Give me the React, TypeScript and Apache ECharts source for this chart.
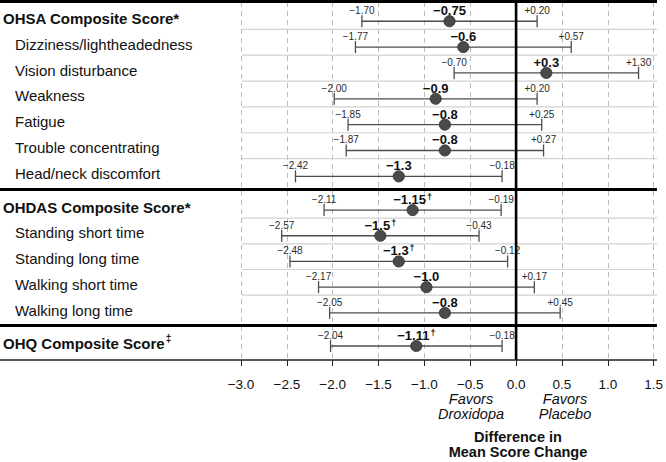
import React, { useEffect, useRef } from "react";
import * as echarts from "echarts";

// ---- Data ----
const ohsaLabels = [
  "OHSA Composite Score*",
  "Dizziness/lightheadedness",
  "Vision disturbance",
  "Weakness",
  "Fatigue",
  "Trouble concentrating",
  "Head/neck discomfort",
];
const ohsaMean = [-0.75, -0.6, 0.3, -0.9, -0.8, -0.8, -1.3];
const ohsaLow = [-1.7, -1.77, -0.7, -2.0, -1.85, -1.87, -2.42];
const ohsaHigh = [0.2, 0.57, 1.3, 0.2, 0.25, 0.27, -0.18];
const ohsaMeanText = ["−0.75", "−0.6", "+0.3", "−0.9", "−0.8", "−0.8", "−1.3"];
const ohsaDagger = [false, false, false, false, false, false, false];

const ohdasLabels = [
  "OHDAS Composite Score*",
  "Standing short time",
  "Standing long time",
  "Walking short time",
  "Walking long time",
];
const ohdasMean = [-1.15, -1.5, -1.3, -1.0, -0.8];
const ohdasLow = [-2.11, -2.57, -2.48, -2.17, -2.05];
const ohdasHigh = [-0.19, -0.43, -0.12, 0.17, 0.45];
const ohdasMeanText = ["−1.15", "−1.5", "−1.3", "−1.0", "−0.8"];
const ohdasDagger = [true, true, true, false, false];

const ohqLabels = ["OHQ Composite Score‡"];
const ohqMean = [-1.11];
const ohqLow = [-2.04];
const ohqHigh = [-0.18];
const ohqMeanText = ["−1.11"];
const ohqDagger = [true];

const xTicks = [-3.0, -2.5, -2.0, -1.5, -1.0, -0.5, 0.0, 0.5, 1.0, 1.5];

// ---- Layout / style ----
const FONT = "'Liberation Sans', Arial, Helvetica, sans-serif";
const X_MIN = xTicks[0];
const X_MAX = xTicks[xTicks.length - 1];
const X_STEP = 0.5;
const GRID_LEFT = 241;
const GRID_RIGHT = 9;

const sections = [
  { labels: ohsaLabels, mean: ohsaMean, low: ohsaLow, high: ohsaHigh, text: ohsaMeanText, dagger: ohsaDagger, top: 3.5, rowH: 25.85 },
  { labels: ohdasLabels, mean: ohdasMean, low: ohdasLow, high: ohdasHigh, text: ohdasMeanText, dagger: ohdasDagger, top: 192.4, rowH: 25.7 },
  { labels: ohqLabels, mean: ohqMean, low: ohqLow, high: ohqHigh, text: ohqMeanText, dagger: ohqDagger, top: 328.3, rowH: 25.8 },
];

function signed(v: number): string {
  if (v > 0) return "+" + v.toFixed(2);
  if (v < 0) return "−" + Math.abs(v).toFixed(2);
  return "0.00";
}
function tickFmt(v: number): string {
  return v < 0 ? "−" + Math.abs(v).toFixed(1) : v.toFixed(1);
}

function buildOption(): any {
  const grids: any[] = [
    { left: GRID_LEFT, right: GRID_RIGHT, top: 2, height: 358 },
  ];
  const xAxes: any[] = [
    {
      gridIndex: 0,
      type: "value",
      min: X_MIN,
      max: X_MAX,
      interval: X_STEP,
      axisLine: { show: false },
      axisTick: { show: true, length: 6, lineStyle: { color: "#222", width: 1 } },
      axisLabel: {
        formatter: (v: number) => tickFmt(v),
        fontSize: 13.5,
        lineHeight: 12,
        color: "#111",
        fontFamily: FONT,
        margin: 18.5,
      },
      splitLine: { show: true, lineStyle: { color: "#bdbdbd", type: [5, 4], width: 1 } },
    },
  ];
  const yAxes: any[] = [
    { gridIndex: 0, type: "value", min: 0, max: 1, show: false },
  ];
  const series: any[] = [
    {
      type: "line",
      xAxisIndex: 0,
      yAxisIndex: 0,
      data: [
        [0, 0],
        [0, 1],
      ],
      symbol: "none",
      lineStyle: { color: "#000", width: 2.6 },
      z: 10,
      silent: true,
    },
  ];

  sections.forEach((s, si) => {
    const gi = si + 1;
    const n = s.labels.length;
    grids.push({ left: GRID_LEFT, right: GRID_RIGHT, top: s.top, height: s.rowH * n });
    xAxes.push({ gridIndex: gi, type: "value", min: X_MIN, max: X_MAX, interval: X_STEP, show: false });
    yAxes.push({
      gridIndex: gi,
      type: "category",
      inverse: true,
      data: s.labels,
      axisLine: { show: false },
      axisTick: { show: false },
      splitLine: { show: false },
      axisLabel: {
        interval: 0,
        align: "left",
        margin: GRID_LEFT - 2,
        formatter: (value: string, index: number) => {
          if (index === 0) {
            if (value.endsWith("‡")) return `{h|${value.slice(0, -1)}}{hs|‡}`;
            return `{h|${value}}`;
          }
          return `{i|${value}}`;
        },
        rich: {
          h: { fontSize: 15, fontWeight: "bold", color: "#111", fontFamily: FONT, padding: [4, 0, 0, 0] },
          hs: { fontSize: 10, fontWeight: "bold", color: "#111", fontFamily: FONT, padding: [0, 0, 6, 1] },
          i: { fontSize: 15, color: "#111", fontFamily: FONT, padding: [4, 0, 0, 12] },
        },
      },
    });
    const data = s.labels.map((_, i) => [i, s.mean[i], s.low[i], s.high[i]]);
    series.push({
      type: "custom",
      xAxisIndex: gi,
      yAxisIndex: gi,
      data,
      encode: { x: [1, 2, 3], y: 0 },
      z: 4,
      clip: false,
      silent: true,
      renderItem: (params: any, api: any) => {
        const idx = api.value(0);
        const mean = api.value(1);
        const lo = api.value(2);
        const hi = api.value(3);
        const c = api.coord([mean, idx]);
        const xl = api.coord([lo, idx])[0];
        const xh = api.coord([hi, idx])[0];
        const band = api.size([0, 1])[1];
        const cs = params.coordSys;
        const yb = c[1] + 4.8;
        const ty = yb - 10.5;
        const children: any[] = [];
        if (idx < n - 1) {
          const ys = c[1] + band / 2;
          children.push({
            type: "line",
            shape: { x1: cs.x, y1: ys, x2: cs.x + cs.width, y2: ys },
            style: { stroke: "#d2d2d2", lineWidth: 1.2 },
            z2: 0,
          });
        }
        const barStroke = { stroke: "#4d4d4d", lineWidth: 1.3 };
        children.push({ type: "line", shape: { x1: xl, y1: yb, x2: xh, y2: yb }, style: barStroke, z2: 2 });
        children.push({ type: "line", shape: { x1: xl, y1: yb - 6, x2: xl, y2: yb + 6 }, style: barStroke, z2: 2 });
        children.push({ type: "line", shape: { x1: xh, y1: yb - 6, x2: xh, y2: yb + 6 }, style: barStroke, z2: 2 });
        children.push({
          type: "circle",
          shape: { cx: c[0], cy: yb, r: 5.6 },
          style: { fill: "#4a4a4a", stroke: "#2e2e2e", lineWidth: 0.8 },
          z2: 3,
        });
        const boundStyle = (t: string) => ({
          text: t,
          fontSize: 10,
          fontFamily: FONT,
          fill: "#2a2a2a",
          align: "center",
          verticalAlign: "middle",
        });
        children.push({ type: "text", x: xl, y: ty, style: boundStyle(signed(lo)), z2: 3 });
        children.push({ type: "text", x: xh, y: ty, style: boundStyle(signed(hi)), z2: 3 });
        const mt = s.text[idx];
        children.push({
          type: "text",
          x: c[0],
          y: ty,
          style: {
            text: s.dagger[idx] ? `{m|${mt}}{d|†}` : `{m|${mt}}`,
            fill: "#111111",
            align: "center",
            verticalAlign: "middle",
            rich: {
              m: { fontSize: 13, fontWeight: "bold", fontFamily: FONT, fill: "#111111" },
              d: { fontSize: 9, fontWeight: "bold", fontFamily: FONT, fill: "#111111", padding: [0, 0, 5, 1] },
            },
          },
          z2: 3,
        });
        return { type: "group", children };
      },
    });
  });

  const ruleX2 = 666 - GRID_RIGHT;
  const txt = (x: number, y: number, text: string, extra: any) => ({
    type: "text",
    x,
    y,
    style: {
      text,
      fontSize: 14.5,
      fontFamily: FONT,
      fill: "#111",
      align: "center",
      verticalAlign: "middle",
      lineHeight: 13,
      ...extra,
    },
  });
  const graphic: any[] = [
    { type: "line", shape: { x1: 0, y1: 1.5, x2: ruleX2, y2: 1.5 }, style: { stroke: "#000", lineWidth: 3 }, z: 20 },
    { type: "line", shape: { x1: 0, y1: 189.5, x2: ruleX2, y2: 189.5 }, style: { stroke: "#000", lineWidth: 3 }, z: 20 },
    { type: "line", shape: { x1: 0, y1: 325.5, x2: ruleX2, y2: 325.5 }, style: { stroke: "#000", lineWidth: 3 }, z: 20 },
    { type: "line", shape: { x1: 0, y1: 360, x2: ruleX2, y2: 360 }, style: { stroke: "#222", lineWidth: 1.6 }, z: 20 },
    txt(471, 398.5, "Favors", { fontStyle: "italic" }),
    txt(471, 413.5, "Droxidopa", { fontStyle: "italic" }),
    txt(565, 398.5, "Favors", { fontStyle: "italic" }),
    txt(565, 413.5, "Placebo", { fontStyle: "italic" }),
    txt(518, 436.5, "Difference in", { fontWeight: "bold" }),
    txt(518, 451.5, "Mean Score Change", { fontWeight: "bold" }),
  ];

  return {
    animation: false,
    backgroundColor: "#fff",
    textStyle: { fontFamily: FONT },
    grid: grids,
    xAxis: xAxes,
    yAxis: yAxes,
    series,
    graphic,
  };
}

export default function App() {
  const ref = useRef<HTMLDivElement>(null);
  useEffect(() => {
    document.body.style.margin = "0";
    if (!ref.current) return;
    const chart = echarts.init(ref.current, undefined, { renderer: "svg" });
    chart.setOption(buildOption());
    return () => chart.dispose();
  }, []);
  return (
    <div
      ref={ref}
      style={{ position: "fixed", left: 0, top: 0, width: 666, height: 462, background: "#fff" }}
    />
  );
}
